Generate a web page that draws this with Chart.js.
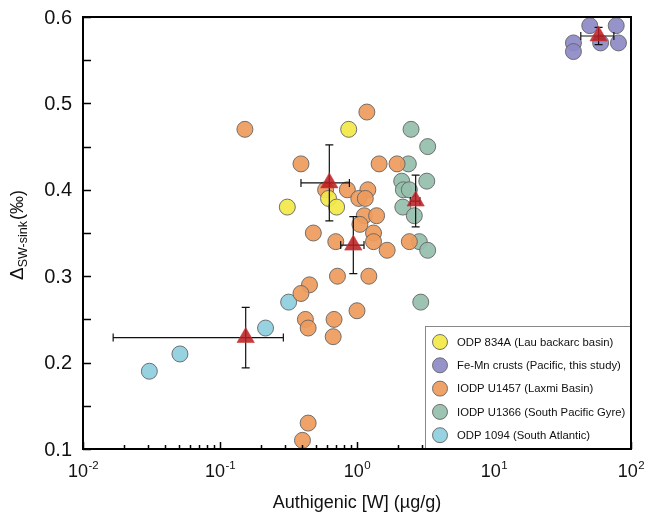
<!DOCTYPE html>
<html>
<head>
<meta charset="utf-8">
<script src="https://cdn.jsdelivr.net/npm/chart.js@4.4.0/dist/chart.umd.min.js"></script>
<style>
html,body{margin:0;padding:0;background:#fff;}
canvas{display:block;}
</style>
</head>
<body>
<canvas id="c" width="651" height="517"></canvas>
<script>
// ---- data ----
const seriesNames = [
  'ODP 834A (Lau backarc basin)',
  'Fe-Mn crusts (Pacific, this study)',
  'IODP U1457 (Laxmi Basin)',
  'IODP U1366 (South Pacific Gyre)',
  'ODP 1094 (South Atlantic)'
];
const seriesColors = ['rgba(242,232,72,0.93)','rgba(142,138,198,0.93)','rgba(238,156,92,0.93)','rgba(150,190,172,0.93)','rgba(142,207,222,0.93)'];

const odp834X = [0.31, 0.62, 0.71, 0.87];
const odp834Y = [0.38, 0.39, 0.38, 0.47];

const femnX = [38, 38, 50, 60, 78, 81];
const femnY = [0.57, 0.56, 0.59, 0.57, 0.59, 0.57];

const u1457X = [0.152, 0.39, 1.18, 1.45, 1.96, 0.59, 0.85, 1.20, 1.03, 1.15, 1.13, 1.39, 1.05, 0.48, 1.32, 0.70, 1.32, 2.41, 1.66, 0.72, 1.22, 0.45, 0.39, 1.0, 0.42, 0.68, 0.44, 0.67, 0.44, 0.40];
const u1457Y = [0.47, 0.43, 0.49, 0.43, 0.43, 0.40, 0.40, 0.40, 0.39, 0.39, 0.37, 0.37, 0.36, 0.35, 0.35, 0.34, 0.34, 0.34, 0.33, 0.30, 0.30, 0.29, 0.28, 0.26, 0.25, 0.25, 0.24, 0.23, 0.13, 0.11];

const u1366X = [2.48, 3.28, 2.37, 2.12, 3.23, 2.18, 2.41, 2.16, 2.62, 2.85, 3.28, 2.92];
const u1366Y = [0.47, 0.45, 0.43, 0.41, 0.41, 0.40, 0.40, 0.38, 0.37, 0.34, 0.33, 0.27];

const odp1094X = [0.0305, 0.051, 0.215, 0.317];
const odp1094Y = [0.19, 0.21, 0.24, 0.27];

// group means with error bars
const meanX    = [58, 0.154, 0.628, 0.94, 2.68];
const meanY    = [0.578, 0.229, 0.408, 0.336, 0.387];
const meanXLo  = [43, 0.0166, 0.39, 0.76, 2.45];
const meanXHi  = [75, 0.29, 0.88, 1.125, 2.88];
const meanYErr = [0.010, 0.035, 0.044, 0.033, 0.030];

// axes
const xTicks = [0.01, 0.1, 1, 10, 100];
const xTickExp = ['-2', '-1', '0', '1', '2'];
const yTicks = [0.1, 0.2, 0.3, 0.4, 0.5, 0.6];
const yTickLabels = ['0.1', '0.2', '0.3', '0.4', '0.5', '0.6'];
const xTitle = 'Authigenic [W] (\u00b5g/g)';
const yTitleMain = '\u0394', yTitleSub = 'SW-sink', yTitleEnd = '(\u2030)';

// ---- build ----
const pts = (xs, ys) => xs.map((v, i) => ({x: v, y: ys[i]}));
const FONT = "'Liberation Sans', Arial, Helvetica, sans-serif";

const circleStyle = (i) => ({
  backgroundColor: seriesColors[i],
  borderColor: 'rgba(100,100,100,0.9)',
  borderWidth: 1,
  pointRadius: 8,
  pointHoverRadius: 8,
  pointStyle: 'circle'
});

const datasets = [
  {label: 'means', data: pts(meanX, meanY), pointStyle: 'triangle', pointRadius: 10,
   backgroundColor: 'rgba(185,28,32,0.86)', borderColor: 'rgba(200,60,60,0.6)', borderWidth: 1},
  Object.assign({label: seriesNames[0], data: pts(odp834X, odp834Y)}, circleStyle(0)),
  Object.assign({label: seriesNames[1], data: pts(femnX, femnY)}, circleStyle(1)),
  Object.assign({label: seriesNames[2], data: pts(u1457X, u1457Y)}, circleStyle(2)),
  Object.assign({label: seriesNames[3], data: pts(u1366X, u1366Y)}, circleStyle(3)),
  Object.assign({label: seriesNames[4], data: pts(odp1094X, odp1094Y)}, circleStyle(4))
];

const errBars = {
  id: 'errBars',
  beforeDatasetDraw(chart, args) {
    if (args.index !== 0) return;
    const {ctx} = chart; const x = chart.scales.x, y = chart.scales.y;
    ctx.save();
    ctx.strokeStyle = '#111'; ctx.lineWidth = 1.2;
    for (let i = 0; i < meanX.length; i++) {
      const px = x.getPixelForValue(meanX[i]), py = y.getPixelForValue(meanY[i]);
      const x0 = x.getPixelForValue(meanXLo[i]), x1 = x.getPixelForValue(meanXHi[i]);
      const y0 = y.getPixelForValue(meanY[i] - meanYErr[i]), y1 = y.getPixelForValue(meanY[i] + meanYErr[i]);
      ctx.beginPath();
      ctx.moveTo(x0, py); ctx.lineTo(x1, py);
      ctx.moveTo(x0, py - 4); ctx.lineTo(x0, py + 4);
      ctx.moveTo(x1, py - 4); ctx.lineTo(x1, py + 4);
      ctx.moveTo(px, y0); ctx.lineTo(px, y1);
      ctx.moveTo(px - 4, y0); ctx.lineTo(px + 4, y0);
      ctx.moveTo(px - 4, y1); ctx.lineTo(px + 4, y1);
      ctx.stroke();
    }
    ctx.restore();
  }
};

const decor = {
  id: 'decor',
  afterDraw(chart) {
    const {ctx, chartArea: a} = chart; const x = chart.scales.x, y = chart.scales.y;
    ctx.save();
    // frame
    ctx.strokeStyle = '#000'; ctx.lineWidth = 2;
    ctx.strokeRect(a.left, a.top, a.right - a.left, a.bottom - a.top);
    // y ticks (major + half steps)
    ctx.lineWidth = 1.5;
    ctx.beginPath();
    for (let i = 0; i < yTicks.length; i++) {
      const py = Math.round(y.getPixelForValue(yTicks[i])) + 0.5;
      ctx.moveTo(a.left, py); ctx.lineTo(a.left + 8, py);
      if (i < yTicks.length - 1) {
        const pm = Math.round(y.getPixelForValue((yTicks[i] + yTicks[i + 1]) / 2)) + 0.5;
        ctx.moveTo(a.left, pm); ctx.lineTo(a.left + 8, pm);
      }
    }
    // x ticks
    for (let i = 0; i < xTicks.length; i++) {
      const px = Math.round(x.getPixelForValue(xTicks[i])) + 0.5;
      ctx.moveTo(px, a.bottom); ctx.lineTo(px, a.bottom - 7);
      if (i < xTicks.length - 1) {
        for (let k = 2; k <= 9; k++) {
          const pm = Math.round(x.getPixelForValue(xTicks[i] * k)) + 0.5;
          ctx.moveTo(pm, a.bottom); ctx.lineTo(pm, a.bottom - 4);
        }
      }
    }
    ctx.stroke();

    // y tick labels
    ctx.fillStyle = '#111';
    ctx.font = '20px ' + FONT;
    ctx.textAlign = 'right'; ctx.textBaseline = 'middle';
    for (let i = 0; i < yTicks.length; i++) {
      ctx.fillText(yTickLabels[i], a.left - 11, y.getPixelForValue(yTicks[i]) + 1);
    }
    // x tick labels with superscripts
    ctx.textAlign = 'left'; ctx.textBaseline = 'alphabetic';
    for (let i = 0; i < xTicks.length; i++) {
      ctx.font = '18px ' + FONT;
      const w1 = ctx.measureText('10').width;
      ctx.font = '11.5px ' + FONT;
      const w2 = ctx.measureText(xTickExp[i]).width;
      const px = x.getPixelForValue(xTicks[i]);
      const sx = px - (w1 + w2) / 2;
      ctx.font = '18px ' + FONT;
      ctx.fillText('10', sx, 477);
      ctx.font = '11.5px ' + FONT;
      ctx.fillText(xTickExp[i], sx + w1 + 0.5, 469);
    }
    // x title
    ctx.font = '18px ' + FONT; ctx.textAlign = 'center';
    ctx.fillText(xTitle, (a.left + a.right) / 2, 508);
    // y title (rotated)
    ctx.save();
    ctx.translate(23, 235);
    ctx.rotate(-Math.PI / 2);
    ctx.textAlign = 'left';
    ctx.font = '19px ' + FONT; const wa = ctx.measureText(yTitleMain).width;
    ctx.font = '12.5px ' + FONT; const wb = ctx.measureText(yTitleSub).width;
    ctx.font = '18px ' + FONT; const wc = ctx.measureText(yTitleEnd).width;
    let sx = -(wa + wb + wc + 1) / 2;
    ctx.font = '19px ' + FONT; ctx.fillText(yTitleMain, sx, 0); sx += wa;
    ctx.font = '12.5px ' + FONT; ctx.fillText(yTitleSub, sx, 4); sx += wb + 1;
    ctx.font = '18px ' + FONT; ctx.fillText(yTitleEnd, sx, 0);
    ctx.restore();

    // legend
    const lx = 425, ly = 326, lw = a.right - lx, lh = a.bottom - ly;
    ctx.fillStyle = '#fff';
    ctx.fillRect(lx, ly, lw, lh);
    ctx.strokeStyle = '#888'; ctx.lineWidth = 1;
    ctx.strokeRect(lx + 0.5, ly + 0.5, lw, lh);
    ctx.font = '11.3px ' + FONT; ctx.textAlign = 'left'; ctx.textBaseline = 'middle';
    for (let i = 0; i < seriesNames.length; i++) {
      const cy = 342 + i * 23.3;
      ctx.beginPath();
      ctx.arc(440, cy, 7.5, 0, Math.PI * 2);
      ctx.fillStyle = seriesColors[i]; ctx.fill();
      ctx.strokeStyle = 'rgba(100,100,100,0.9)'; ctx.stroke();
      ctx.fillStyle = '#111';
      ctx.fillText(seriesNames[i], 457, cy + 0.5);
    }
    // redraw frame edge over legend
    ctx.strokeStyle = '#000'; ctx.lineWidth = 2;
    ctx.strokeRect(a.left, a.top, a.right - a.left, a.bottom - a.top);
    ctx.restore();
  }
};

new Chart(document.getElementById('c'), {
  type: 'scatter',
  data: {datasets},
  options: {
    responsive: false,
    devicePixelRatio: 1,
    animation: false,
    layout: {padding: {left: 83, right: 20, top: 17, bottom: 68}},
    scales: {
      x: {type: 'logarithmic', min: 0.01, max: 100, display: false},
      y: {type: 'linear', min: 0.1, max: 0.6, display: false}
    },
    plugins: {legend: {display: false}, tooltip: {enabled: false}},
    elements: {point: {hitRadius: 0}},
    clip: false
  },
  plugins: [errBars, decor]
});
</script>
</body>
</html>
